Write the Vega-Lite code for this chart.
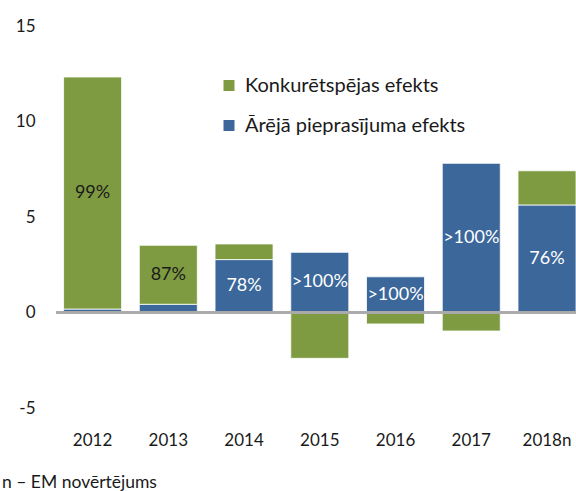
{
  "$schema": "https://vega.github.io/schema/vega-lite/v6.json",
  "width": 520,
  "height": 382,
  "autosize": {"type": "none"},
  "padding": {"left": 56, "top": 26, "right": 0, "bottom": 83},
  "background": "white",
  "config": {
    "view": {"stroke": null},
    "font": "Lato",
    "axis": {"domain": false, "ticks": false, "grid": false, "labelColor": "#1a1a1a", "labelFont": "Lato"}
  },
  "title": {
    "text": "n – EM novērtējums",
    "orient": "bottom",
    "anchor": "start",
    "frame": "group",
    "dx": -54,
    "offset": 26,
    "fontSize": 17.5,
    "fontWeight": "normal",
    "color": "#1a1a1a",
    "font": "Lato"
  },
  "data": {
    "values": [
      {"year": "2012", "effect": "Ārējā pieprasījuma efekts", "value": 0.18, "label": ""},
      {"year": "2012", "effect": "Konkurētspējas efekts", "value": 12.15, "label": "99%"},
      {"year": "2013", "effect": "Ārējā pieprasījuma efekts", "value": 0.43, "label": ""},
      {"year": "2013", "effect": "Konkurētspējas efekts", "value": 3.09, "label": "87%"},
      {"year": "2014", "effect": "Ārējā pieprasījuma efekts", "value": 2.77, "label": "78%"},
      {"year": "2014", "effect": "Konkurētspējas efekts", "value": 0.82, "label": ""},
      {"year": "2015", "effect": "Ārējā pieprasījuma efekts", "value": 3.15, "label": ">100%"},
      {"year": "2015", "effect": "Konkurētspējas efekts", "value": -2.4, "label": ""},
      {"year": "2016", "effect": "Ārējā pieprasījuma efekts", "value": 1.87, "label": ">100%"},
      {"year": "2016", "effect": "Konkurētspējas efekts", "value": -0.6, "label": ""},
      {"year": "2017", "effect": "Ārējā pieprasījuma efekts", "value": 7.81, "label": ">100%"},
      {"year": "2017", "effect": "Konkurētspējas efekts", "value": -0.97, "label": ""},
      {"year": "2018n", "effect": "Ārējā pieprasījuma efekts", "value": 5.63, "label": "76%"},
      {"year": "2018n", "effect": "Konkurētspējas efekts", "value": 1.79, "label": ""}
    ]
  },
  "layer": [
    {
      "mark": {"type": "bar", "stroke": "white", "strokeWidth": 0.8},
      "encoding": {
        "x": {
          "field": "year",
          "type": "nominal",
          "sort": null,
          "scale": {"domain": ["2012", "2013", "2014", "2015", "2016", "2017", "2018n"], "paddingInner": 0.234, "paddingOuter": 0.05, "align": 1},
          "axis": {"title": null, "labelAngle": 0, "labelFontSize": 17, "labelPadding": 24}
        },
        "y": {
          "field": "value",
          "type": "quantitative",
          "stack": "zero",
          "scale": {"domain": [-5, 15], "nice": false, "zero": false},
          "axis": {"title": null, "values": [-5, 0, 5, 10, 15], "labelExpr": "'' + datum.value", "labelFontSize": 17, "labelPadding": 21}
        },
        "color": {
          "field": "effect",
          "type": "nominal",
          "scale": {"domain": ["Konkurētspējas efekts", "Ārējā pieprasījuma efekts"], "range": ["#7f9b42", "#3b679b"]},
          "legend": {
            "orient": "none",
            "legendX": 163,
            "legendY": 49.5,
            "title": null,
            "symbolType": "square",
            "symbolSize": 121,
            "symbolStrokeWidth": 0,
            "labelFontSize": 20,
            "labelLimit": 0,
            "labelColor": "#1a1a1a",
            "labelOffset": 6,
            "rowPadding": 20,
            "padding": 0
          }
        },
        "order": {"field": "effect", "sort": "descending"}
      }
    },
    {
      "transform": [
        {"stack": "value", "groupby": ["year"], "sort": [{"field": "effect", "order": "descending"}], "as": ["y0", "y1"]},
        {"filter": "datum.label !== ''"},
        {"fold": ["y0", "y1"], "as": ["edge", "pos"]},
        {"aggregate": [{"op": "mean", "field": "pos", "as": "mid"}], "groupby": ["year", "effect", "label"]}
      ],
      "mark": {"type": "text", "fontSize": 18, "baseline": "middle", "align": "center"},
      "encoding": {
        "x": {"field": "year", "type": "nominal", "sort": null},
        "y": {"field": "mid", "type": "quantitative"},
        "text": {"field": "label"},
        "color": {"condition": {"test": "datum.effect === 'Konkurētspējas efekts'", "value": "#1a1a1a"}, "value": "white"}
      }
    },
    {
      "mark": {"type": "rule", "color": "#aaaaaa", "strokeWidth": 1.5},
      "encoding": {"y": {"datum": 0}}
    }
  ]
}
